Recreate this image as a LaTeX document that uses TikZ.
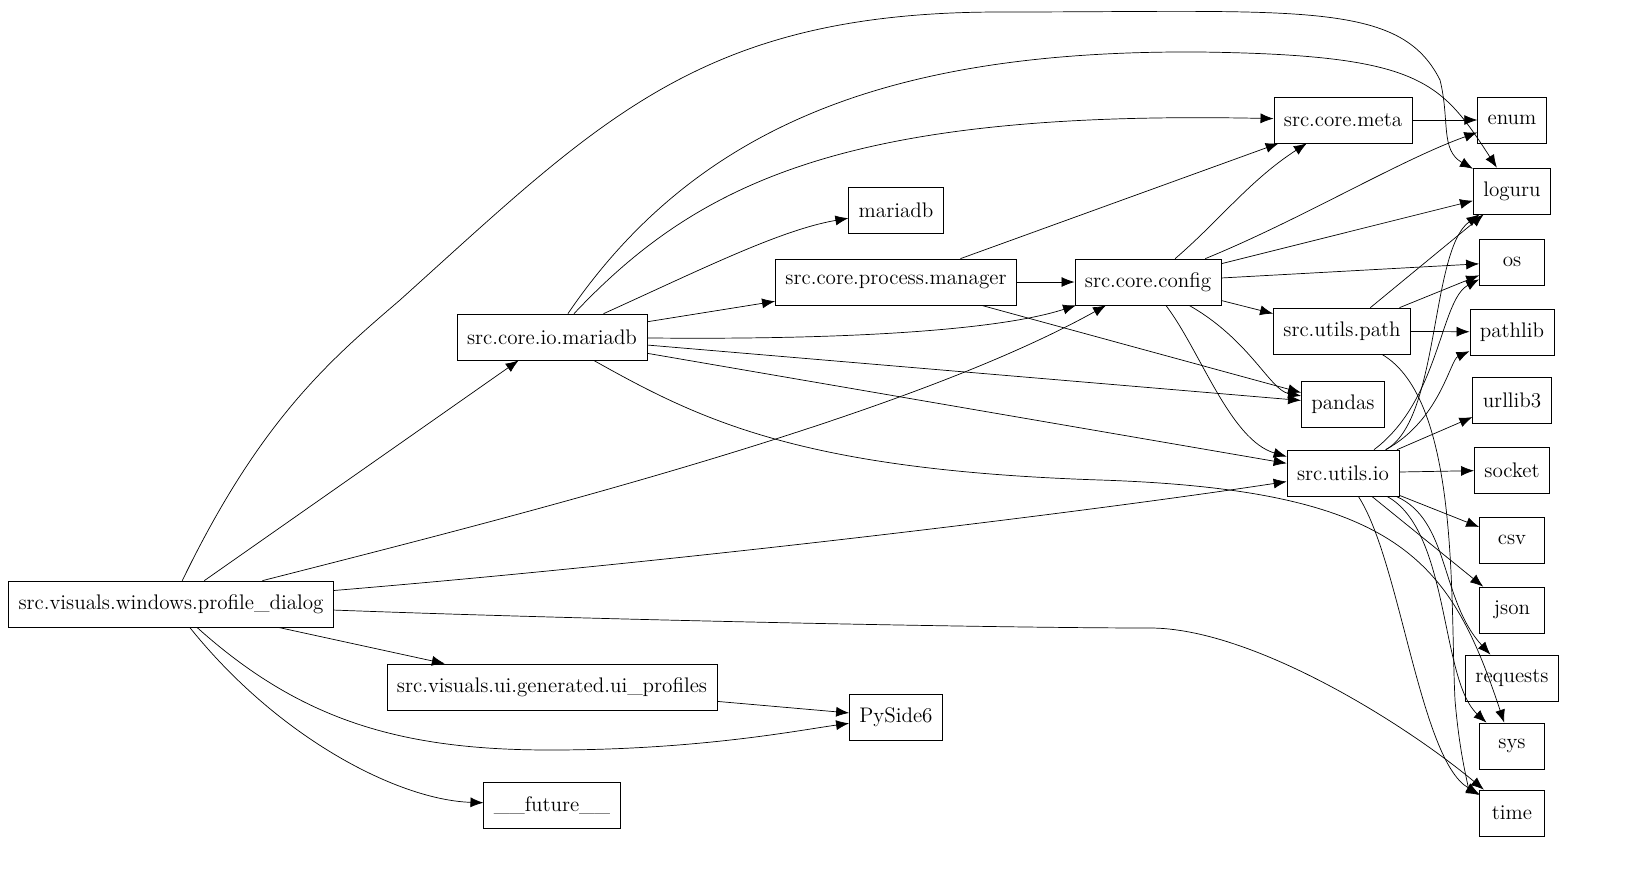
\documentclass[tikz,border=0pt]{standalone}
\usetikzlibrary{arrows.meta}
\tikzset{%
  >={Latex[width=2mm,length=2.6mm]},
  % style of the module boxes
  mod/.style = {rectangle, draw=black, minimum width=1.3cm, minimum height=0.92cm,
                inner xsep=0.2cm, font=\fontsize{12}{14}\selectfont},
  dep/.style = {->, draw=black},
}
\begin{document}
\begin{tikzpicture}[x=0.02cm, y=-0.02cm]
  \useasboundingbox (0,0) rectangle (1637,880);

  % modules
  \node (dialog)   [mod] at (171,604) {src.visuals.windows.profile\_dialog};
  \node (iomaria)  [mod] at (552,337) {src.core.io.mariadb};
  \node (uiprof)   [mod] at (552,687) {src.visuals.ui.generated.ui\_profiles};
  \node (future)   [mod] at (552,805) {\_\_future\_\_};
  \node (mariadb)  [mod] at (896,210) {mariadb};
  \node (procman)  [mod] at (896,282) {src.core.process.manager};
  \node (pyside)   [mod] at (896,717) {PySide6};
  \node (config)   [mod] at (1148,282) {src.core.config};
  \node (meta)     [mod] at (1343,120) {src.core.meta};
  \node (upath)    [mod] at (1342,331) {src.utils.path};
  \node (pandas)   [mod] at (1343,404) {pandas};
  \node (uio)      [mod] at (1343,473) {src.utils.io};
  \node (enum)     [mod] at (1512,120) {enum};
  \node (loguru)   [mod] at (1512,191) {loguru};
  \node (os)       [mod] at (1512,262) {os};
  \node (pathlib)  [mod] at (1512,332) {pathlib};
  \node (urllib)   [mod] at (1512,400) {urllib3};
  \node (socket)   [mod] at (1512,470) {socket};
  \node (csv)      [mod] at (1512,540) {csv};
  \node (json)     [mod] at (1512,610) {json};
  \node (requests) [mod] at (1512,678) {requests};
  \node (sys)      [mod] at (1512,746) {sys};
  \node (time)     [mod] at (1512,813) {time};

  % profile_dialog
  \draw[dep] (dialog) .. controls (260,420) and (330,360) .. (400,300)
             .. controls (600,120) and (700,12) .. (1000,12)
             .. controls (1300,12) and (1400,0) .. (1440,80)
             .. controls (1450,120) and (1440,150) .. (loguru);
  \draw[dep] (dialog) -- (iomaria);
  \draw[dep] (dialog) .. controls (500,520) and (900,420) .. (config);
  \draw[dep] (dialog) .. controls (700,560) and (1100,510) .. (uio);
  \draw[dep] (dialog) .. controls (600,620) and (1000,628) .. (1150,628)
             .. controls (1250,628) and (1400,720) .. (time);
  \draw[dep] (dialog) -- (uiprof);
  \draw[dep] (dialog) .. controls (300,720) and (400,750) .. (550,750)
             .. controls (700,750) and (800,730) .. (pyside);
  \draw[dep] (dialog) .. controls (280,740) and (400,800) .. (future);

  % core.io.mariadb
  \draw[dep] (iomaria) .. controls (700,120) and (900,50) .. (1200,52)
             .. controls (1420,55) and (1440,80) .. (loguru);
  \draw[dep] (iomaria) .. controls (700,180) and (850,110) .. (meta);
  \draw[dep] (iomaria) .. controls (700,270) and (780,230) .. (mariadb);
  \draw[dep] (iomaria) -- (procman);
  \draw[dep] (iomaria) .. controls (850,340) and (1000,330) .. (config);
  \draw[dep] (iomaria) -- (pandas);
  \draw[dep] (iomaria) -- (uio);
  \draw[dep] (iomaria) .. controls (700,420) and (800,470) .. (1100,480)
             .. controls (1400,490) and (1450,560) .. (sys);

  % remaining modules
  \draw[dep] (uiprof) -- (pyside);
  \draw[dep] (procman) -- (config);
  \draw[dep] (procman) -- (meta);
  \draw[dep] (procman) -- (pandas);
  \draw[dep] (config) .. controls (1220,220) and (1250,180) .. (meta);
  \draw[dep] (config) .. controls (1300,220) and (1400,160) .. (enum);
  \draw[dep] (config) -- (loguru);
  \draw[dep] (config) -- (os);
  \draw[dep] (config) -- (upath);
  \draw[dep] (config) .. controls (1250,340) and (1270,390) .. (pandas);
  \draw[dep] (config) .. controls (1200,350) and (1230,440) .. (uio);
  \draw[dep] (meta) -- (enum);
  \draw[dep] (upath) -- (loguru);
  \draw[dep] (upath) -- (os);
  \draw[dep] (upath) -- (pathlib);
  \draw[dep] (upath) .. controls (1460,400) and (1450,600) .. (1455,700)
             .. controls (1460,760) and (1470,790) .. (time);

  % utils.io
  \draw[dep] (uio) .. controls (1440,420) and (1430,250) .. (loguru);
  \draw[dep] (uio) .. controls (1440,400) and (1440,300) .. (os);
  \draw[dep] (uio) .. controls (1440,420) and (1450,360) .. (pathlib);
  \foreach \m in {urllib, socket, csv, json}
    \draw[dep] (uio) -- (\m);
  \draw[dep] (uio) .. controls (1450,520) and (1440,600) .. (requests);
  \draw[dep] (uio) .. controls (1450,530) and (1440,680) .. (sys);
  \draw[dep] (uio) .. controls (1400,560) and (1420,760) .. (time);
\end{tikzpicture}
\end{document}
